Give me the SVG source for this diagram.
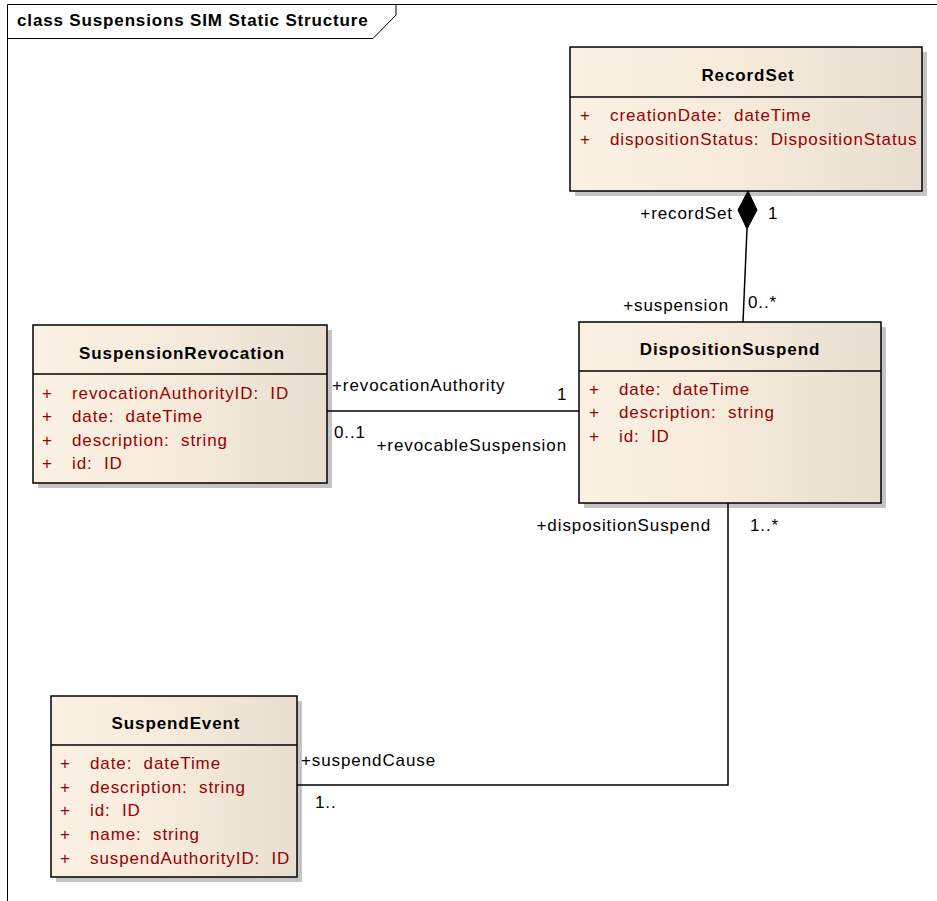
<svg xmlns="http://www.w3.org/2000/svg" width="937" height="901" viewBox="0 0 937 901">
<defs>
<linearGradient id="g" x1="0" y1="0" x2="1" y2="0">
<stop offset="0" stop-color="#FBF1E2"/>
<stop offset="0.5" stop-color="#F6EBDB"/>
<stop offset="1" stop-color="#E7DECF"/>
</linearGradient>
<style>
.box{fill:url(#g);stroke:#000;stroke-width:1.5}
.sh{fill:#c4c4c4}
.div{stroke:#000;stroke-width:1.5}
.ttl{font-family:"Liberation Sans",Arial,sans-serif;font-weight:bold;font-size:17px;fill:#000;text-anchor:middle;letter-spacing:0.9px}
.att{font-family:"Liberation Sans",Arial,sans-serif;font-size:17px;fill:#990000;letter-spacing:0.9px;white-space:pre}
.lbl{font-family:"Liberation Sans",Arial,sans-serif;font-size:17px;fill:#000;letter-spacing:0.9px}
.ln{fill:none;stroke:#000;stroke-width:1.5}
</style>
</defs>
<rect width="937" height="901" fill="#fff"/>
<g id="frame">
<path d="M7.5 901 V4.5 H937" fill="none" stroke="#000" stroke-width="1"/>
<path d="M7.5 38.5 H373 L396 15 V4.5" fill="none" stroke="#000" stroke-width="1"/>
<text x="17" y="26" style="font-family:'Liberation Sans',Arial,sans-serif;font-weight:bold;font-size:17px;letter-spacing:0.85px">class Suspensions SIM Static Structure</text>
</g>
<g id="RecordSet">
<rect class="sh" x="575" y="52" width="352" height="144"/>
<rect class="box" x="570" y="47" width="352" height="144"/>
<line class="div" x1="570" y1="97" x2="922" y2="97"/>
<text class="ttl" x="748" y="81">RecordSet</text>
<text class="att" x="580" y="121">+</text><text class="att" x="610" y="121">creationDate:  dateTime</text>
<text class="att" x="580" y="145">+</text><text class="att" x="610" y="145">dispositionStatus:  DispositionStatus</text>
</g>
<g id="SuspensionRevocation">
<rect class="sh" x="38" y="330" width="294" height="158"/>
<rect class="box" x="33" y="325" width="294" height="158"/>
<line class="div" x1="33" y1="374" x2="327" y2="374"/>
<text class="ttl" x="182" y="359">SuspensionRevocation</text>
<text class="att" x="42" y="399">+</text><text class="att" x="72" y="399">revocationAuthorityID:  ID</text>
<text class="att" x="42" y="422">+</text><text class="att" x="72" y="422">date:  dateTime</text>
<text class="att" x="42" y="446">+</text><text class="att" x="72" y="446">description:  string</text>
<text class="att" x="42" y="469">+</text><text class="att" x="72" y="469">id:  ID</text>
</g>
<g id="DispositionSuspend">
<rect class="sh" x="584" y="327" width="302" height="181"/>
<rect class="box" x="579" y="322" width="302" height="181"/>
<line class="div" x1="579" y1="371" x2="881" y2="371"/>
<text class="ttl" x="730" y="355">DispositionSuspend</text>
<text class="att" x="589" y="395">+</text><text class="att" x="619" y="395">date:  dateTime</text>
<text class="att" x="589" y="418">+</text><text class="att" x="619" y="418">description:  string</text>
<text class="att" x="589" y="442">+</text><text class="att" x="619" y="442">id:  ID</text>
</g>
<g id="SuspendEvent">
<rect class="sh" x="56" y="701" width="246" height="181"/>
<rect class="box" x="51" y="696" width="246" height="181"/>
<line class="div" x1="51" y1="745" x2="297" y2="745"/>
<text class="ttl" x="176" y="729">SuspendEvent</text>
<text class="att" x="60" y="769">+</text><text class="att" x="90" y="769">date:  dateTime</text>
<text class="att" x="60" y="793">+</text><text class="att" x="90" y="793">description:  string</text>
<text class="att" x="60" y="816">+</text><text class="att" x="90" y="816">id:  ID</text>
<text class="att" x="60" y="840">+</text><text class="att" x="90" y="840">name:  string</text>
<text class="att" x="60" y="864">+</text><text class="att" x="90" y="864">suspendAuthorityID:  ID</text>
</g>
<g id="connectors">
<line class="ln" x1="747" y1="229" x2="743" y2="322"/>
<polygon points="748,191 757,210 747,229 738,210" fill="#000" stroke="#000" stroke-width="1"/>
<line class="ln" x1="327" y1="411" x2="579" y2="411"/>
<polyline class="ln" points="728,503 728,785 297,785"/>
</g>
<g id="labels">
<text class="lbl" x="733" y="219" text-anchor="end">+recordSet</text>
<text class="lbl" x="768" y="219">1</text>
<text class="lbl" x="729" y="311" text-anchor="end">+suspension</text>
<text class="lbl" x="748" y="308">0..*</text>
<text class="lbl" x="332" y="391">+revocationAuthority</text>
<text class="lbl" x="557" y="400">1</text>
<text class="lbl" x="334" y="438">0..1</text>
<text class="lbl" x="567" y="451" text-anchor="end">+revocableSuspension</text>
<text class="lbl" x="711" y="531" text-anchor="end">+dispositionSuspend</text>
<text class="lbl" x="750" y="531">1..*</text>
<text class="lbl" x="301" y="766">+suspendCause</text>
<text class="lbl" x="315" y="808">1..</text>
</g>
</svg>
